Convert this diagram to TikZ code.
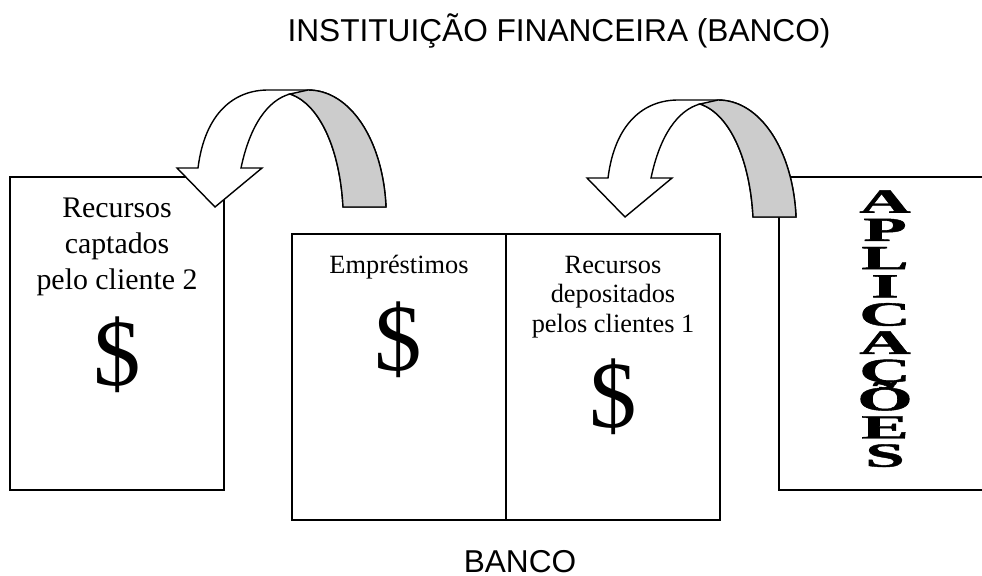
\documentclass[tikz,border=0pt]{standalone}
\usepackage{fontspec}
\setmainfont{Liberation Serif}
\newfontfamily\arialfont{Liberation Sans}
\newfontfamily\pesada[FakeBold=1.2]{Liberation Serif Bold}
\usetikzlibrary{positioning}
\newcommand{\linha}[1]{\hbox to 60pt{\hss\scalebox{2.1}[1]{#1}\hss}}
\newcommand{\aplicacoes}{\vbox{\baselineskip=16.06pt\lineskiplimit=-100pt\relax\lineskip=0pt\relax
	\linha{A}\linha{P}\linha{L}\linha{I}\linha{C}\linha{A}\linha{Ç}\linha{Õ}\linha{E}\linha{S}}}

\begin{document}
\begin{tikzpicture}[x=0.02cm,y=-0.02cm,
	caixa/.style={line width=1.1pt},
	seta/.style={draw,line width=0.8pt,fill=white,line join=miter},
	faixa/.style={draw,line width=0.8pt,fill=gray!40}]
		\useasboundingbox (0,0) rectangle (982,575);
		\draw[caixa] (10,177) rectangle (224,490);
		\draw[caixa] (292,234) rectangle (720,520);
		\draw[caixa] (506,234) -- (506,520);
		\draw[caixa] (982,177) -- (779,177) -- (779,490) -- (982,490);
		\node[anchor=base] (titulo) at (559,41) {\arialfont\fontsize{18}{21}\selectfont INSTITUIÇÃO FINANCEIRA (BANCO)};
		\node[anchor=base,inner sep=0pt] (banco) at (520,572) {\arialfont\fontsize{18}{21}\selectfont BANCO};
		\node[anchor=base,align=center,font=\fontsize{17}{20.4}\selectfont] (cliente2) at (117,289) {Recursos\\captados\\pelo cliente 2};
		\node[anchor=base,font=\fontsize{54}{60}\selectfont] (dolar2) at (117,385) {\$};
		\node[anchor=base,font=\fontsize{15}{16.7}\selectfont] (emprestimos) at (399,273) {Empréstimos};
		\node[anchor=base,font=\fontsize{54}{60}\selectfont] (dolar0) at (398,370) {\$};
		\node[anchor=base,align=center,font=\fontsize{15}{16.7}\selectfont] (cliente1) at (613,332) {Recursos\\depositados\\pelos clientes 1};
		\node[anchor=base,font=\fontsize{54}{60}\selectfont] (dolar1) at (613,427) {\$};
		\node[anchor=base,inner sep=0pt,font=\pesada\fontsize{19.3}{16.06}\selectfont] (vertical) at (885,466.7) {\aplicacoes};
		\foreach \dx/\dy in {0/0,410/10}{
			\begin{scope}[shift={(\dx,\dy)}]
				\draw[seta] (198,168) .. controls (205,112) and (235,90) .. (268,90) -- (308,90) .. controls (350,90) and (383,140) .. (386,207) -- (343,207) .. controls (340,150) and (320,104) .. (290,94) .. controls (268,100) and (250,125) .. (241,168) -- (262,168) -- (215,207) -- (177,168) -- cycle;
				\draw[faixa] (290,94) -- (308,90) .. controls (350,90) and (383,140) .. (386,207) -- (343,207) .. controls (340,150) and (320,104) .. (290,94) -- cycle;
			\end{scope}
		}
\end{tikzpicture}
\end{document}
